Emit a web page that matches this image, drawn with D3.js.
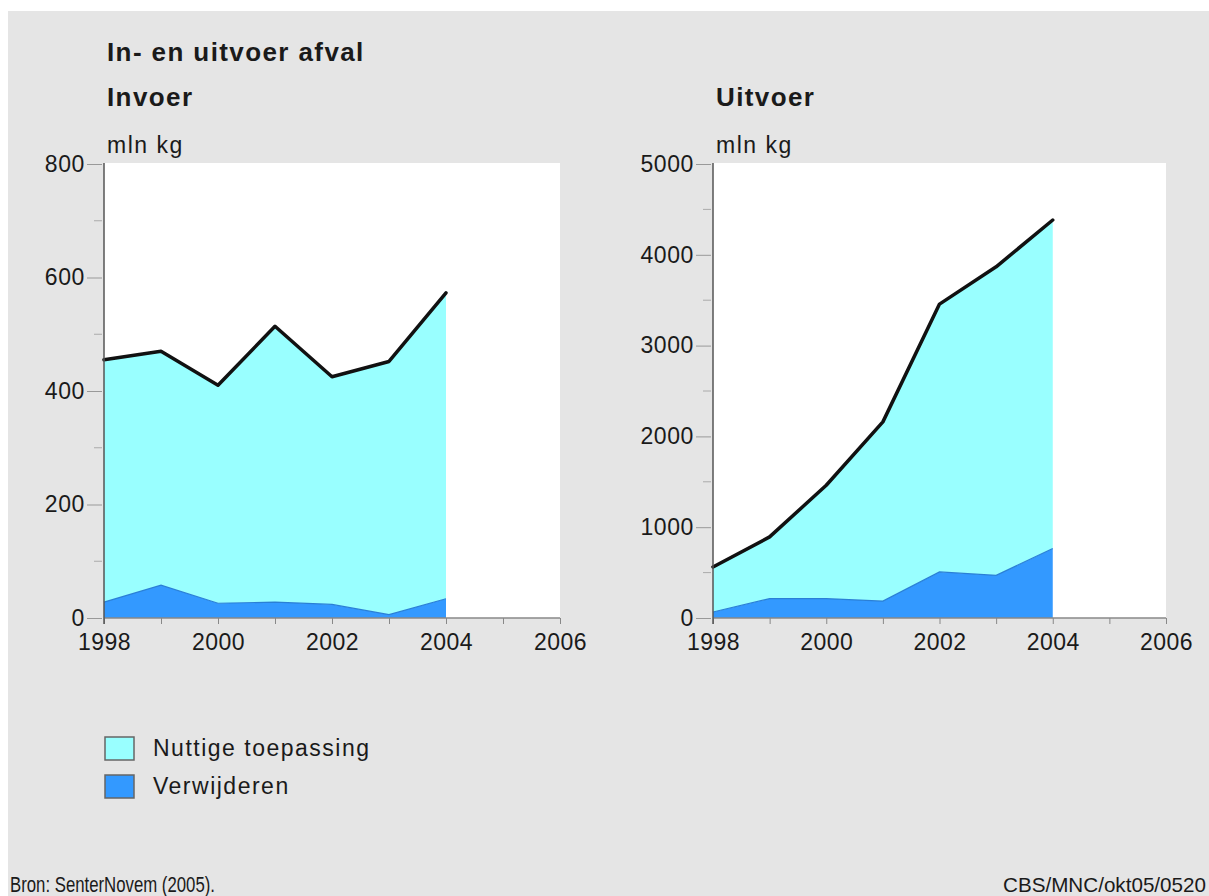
<!DOCTYPE html>
<html>
<head>
<meta charset="utf-8">
<script src="https://cdnjs.cloudflare.com/ajax/libs/d3/7.8.5/d3.min.js"></script>
<style>
body { margin: 0; background: #fff; }
text { font-family: "Liberation Sans", Arial, sans-serif; fill: #1a1a1a; }
</style>
</head>
<body>
<svg id="canvas" width="1209" height="896"></svg>
<script>
var years = [1998, 1999, 2000, 2001, 2002, 2003, 2004];
var invoerVerwijderen = [28, 58, 26, 28, 24, 6, 34];
var invoerNuttig = [427, 412, 384, 486, 401, 446, 539];
var uitvoerVerwijderen = [66, 214, 214, 187, 507, 470, 765];
var uitvoerNuttig = [496, 679, 1248, 1973, 2950, 3398, 3618];
var xTicks = [1998, 2000, 2002, 2004, 2006];
var invoerTicks = [0, 200, 400, 600, 800];
var uitvoerTicks = [0, 1000, 2000, 3000, 4000, 5000];
var legendItems = ['Nuttige toepassing', 'Verwijderen'];
var colors = {'Nuttige toepassing': '#99ffff', 'Verwijderen': '#3399ff'};

var canvas = d3.select("#canvas");

canvas.append("rect")
	.attr("x", 8).attr("y", 11)
	.attr("width", 1201).attr("height", 885)
	.style("fill", "#e5e5e5");

canvas.append("text")
	.attr("x", 107).attr("y", 61)
	.style("font-size", "26px").style("font-weight", "bold").style("letter-spacing", "1.4px")
	.text("In- en uitvoer afval");

drawPanel({left: 104, right: 560, title: 'Invoer', verw: invoerVerwijderen, nutt: invoerNuttig,
	max: 800, ticks: invoerTicks, minor: 100});
drawPanel({left: 713, right: 1166, title: 'Uitvoer', verw: uitvoerVerwijderen, nutt: uitvoerNuttig,
	max: 5000, ticks: uitvoerTicks, minor: 500});

function drawPanel(p){
	var top = 164, bottom = 618;
	var x = d3.scaleLinear().domain([1998, 2006]).range([p.left, p.right]);
	var y = d3.scaleLinear().domain([0, p.max]).range([bottom, top]);
	var g = canvas.append("g");

	g.append("text")
		.attr("x", p.left + 3).attr("y", 106)
		.style("font-size", "26px").style("font-weight", "bold").style("letter-spacing", "1.4px")
		.text(p.title);
	g.append("text")
		.attr("x", p.left + 3).attr("y", 153)
		.style("font-size", "23px").style("letter-spacing", "1.5px")
		.text("mln kg");

	g.append("rect")
		.attr("x", p.left).attr("y", top - 1)
		.attr("width", p.right - p.left).attr("height", bottom - top + 1)
		.style("fill", "#fff");

	var table = years.map(function(yr, i){
		return {year: yr, 'Verwijderen': p.verw[i], 'Nuttige toepassing': p.nutt[i]};
	});
	var stacked = d3.stack().keys(['Verwijderen', 'Nuttige toepassing'])(table);

	var area = d3.area()
		.x(function(d){ return x(d.data.year) })
		.y0(function(d){ return y(d[0]) })
		.y1(function(d){ return y(d[1]) });
	var topLine = d3.line()
		.x(function(d){ return x(d.data.year) })
		.y(function(d){ return y(d[1]) });

	g.selectAll(".layer").data(stacked).enter().append("path")
		.attr("class", "layer")
		.attr("d", area)
		.style("fill", function(d){ return colors[d.key] });

	g.append("path")
		.attr("d", topLine(stacked[0]))
		.style("fill", "none").style("stroke", "#2a7fd6").style("stroke-width", 1.2);
	g.append("path")
		.attr("d", topLine(stacked[1]))
		.style("fill", "none").style("stroke", "#111").style("stroke-width", 3.5)
		.style("stroke-linejoin", "round").style("stroke-linecap", "round");

	// axes
	var yAxis = d3.axisLeft(y).tickValues(p.ticks).tickSize(15).tickPadding(4).tickFormat(d3.format("d"));
	var ya = g.append("g").attr("transform", "translate(" + p.left + ",0)").call(yAxis);
	ya.select(".domain").remove();
	ya.selectAll("line").attr("x1", -2).attr("x2", -17).style("stroke", "#999");
	ya.selectAll("text").attr("x", -19)
		.style("font-size", "23px").style("letter-spacing", "0.6px").style("font-family", null);

	var minors = d3.range(p.minor, p.max, p.minor * 2);
	g.selectAll(".minor").data(minors).enter().append("line")
		.attr("class", "minor")
		.attr("x1", p.left - 10).attr("x2", p.left - 2)
		.attr("y1", function(d){ return y(d) }).attr("y2", function(d){ return y(d) })
		.style("stroke", "#aaa");

	var xAxis = d3.axisBottom(x).tickValues(d3.range(1998, 2007)).tickSize(6).tickPadding(10)
		.tickFormat(function(d){ return xTicks.indexOf(d) >= 0 ? d : '' });
	var xa = g.append("g").attr("transform", "translate(0," + bottom + ")").call(xAxis);
	xa.select(".domain").remove();
	xa.selectAll("line").style("stroke", "#888");
	xa.selectAll("text")
		.style("font-size", "23px").style("letter-spacing", "0.4px").style("font-family", null);

	g.append("line")
		.attr("x1", p.left).attr("x2", p.right).attr("y1", bottom).attr("y2", bottom)
		.style("stroke", "#888").style("stroke-width", 1.5);
	g.append("line")
		.attr("x1", p.left).attr("x2", p.left).attr("y1", top - 1).attr("y2", bottom + 6)
		.style("stroke", "#555").style("stroke-width", 1.5);
}

var legend = canvas.selectAll(".legend").data(legendItems).enter().append("g")
	.attr("class", "legend")
	.attr("transform", function(d, i){ return "translate(105," + (737 + i * 38) + ")" });
legend.append("rect")
	.attr("width", 29).attr("height", 23)
	.style("fill", function(d){ return colors[d] })
	.style("stroke", "#666").style("stroke-width", 1.5);
legend.append("text")
	.attr("x", 48).attr("y", 19)
	.style("font-size", "23px").style("letter-spacing", "1.5px")
	.text(function(d){ return d });

canvas.append("text")
	.attr("x", 10).attr("y", 892)
	.attr("textLength", 205).attr("lengthAdjust", "spacingAndGlyphs")
	.style("font-size", "22px")
	.text("Bron: SenterNovem (2005).");
canvas.append("text")
	.attr("x", 1003).attr("y", 892)
	.attr("textLength", 203).attr("lengthAdjust", "spacingAndGlyphs")
	.style("font-size", "21px")
	.text("CBS/MNC/okt05/0520");
</script>
</body>
</html>
